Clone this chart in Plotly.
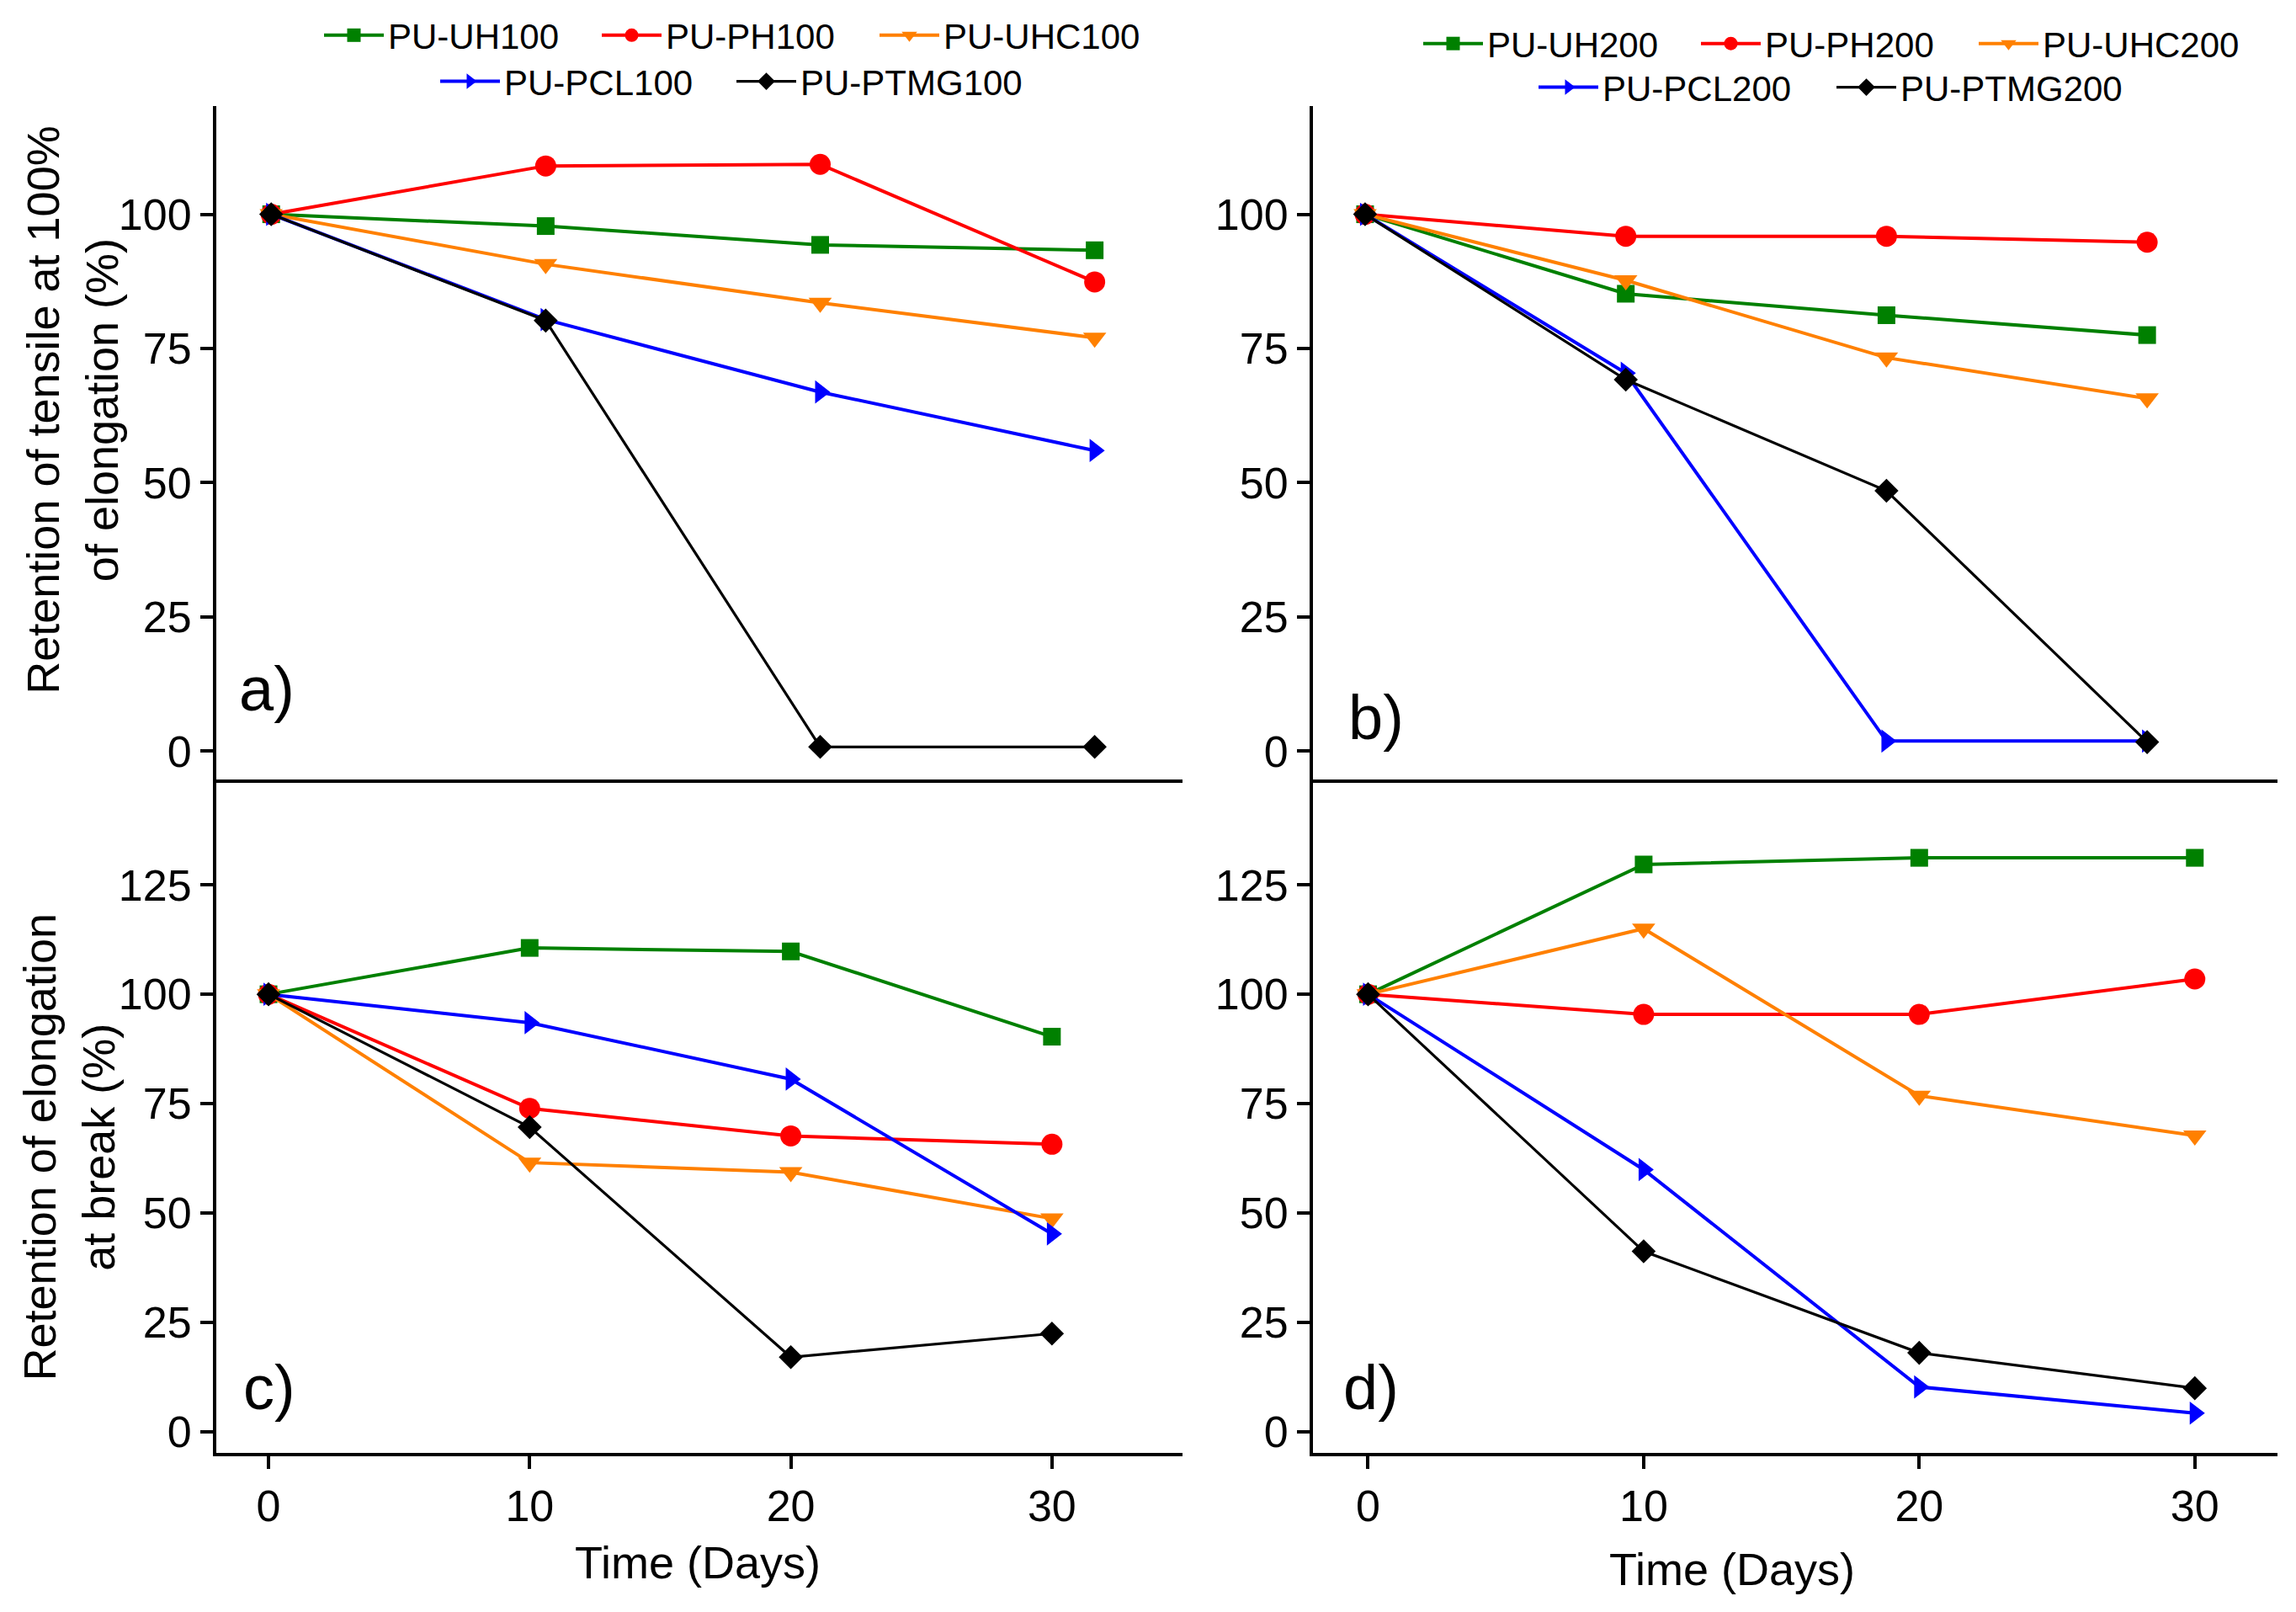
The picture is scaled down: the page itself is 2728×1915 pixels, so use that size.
import plotly.graph_objects as go

# ---------------- data ----------------
days = [0, 10, 20, 30]

# a) Retention of tensile at 100% of elongation, 100-series
a_UH100 = [100, 97.8, 94.3, 93.3]
a_PH100 = [100, 109.0, 109.3, 87.4]
a_UHC100 = [100, 90.7, 83.5, 77.0]
a_PCL100 = [100, 80.4, 66.9, 56.0]
a_PTMG100 = [100, 80.2, 0.8, 0.8]

# b) Retention of tensile at 100% of elongation, 200-series
b_UH200 = [100, 85.2, 81.2, 77.5]
b_PH200 = [100, 95.9, 95.9, 94.8]
b_UHC200 = [100, 87.7, 73.3, 65.7]
b_PCL200 = [100, 70.4, 1.9, 1.9]
b_PTMG200 = [100, 69.2, 48.5, 1.7]

# c) Retention of elongation at break, 100-series
c_UH100 = [100, 110.6, 109.8, 90.3]
c_PH100 = [100, 73.9, 67.6, 65.7]
c_UHC100 = [100, 61.5, 59.3, 48.7]
c_PCL100 = [100, 93.5, 80.6, 45.2]
c_PTMG100 = [100, 69.6, 17.0, 22.4]

# d) Retention of elongation at break, 200-series
d_UH200 = [100, 129.7, 131.2, 131.2]
d_PH200 = [100, 95.4, 95.4, 103.5]
d_UHC200 = [100, 115.0, 76.8, 67.7]
d_PCL200 = [100, 59.9, 10.2, 4.2]
d_PTMG200 = [100, 41.2, 18.0, 9.9]

names100 = ["PU-UH100", "PU-PH100", "PU-UHC100", "PU-PCL100", "PU-PTMG100"]
names200 = ["PU-UH200", "PU-PH200", "PU-UHC200", "PU-PCL200", "PU-PTMG200"]
x_ticks = [0, 10, 20, 30]
y_ticks_top = [0, 25, 50, 75, 100]
y_ticks_bot = [0, 25, 50, 75, 100, 125]

# ---------------- styling ----------------
W, H = 2728, 1915
FONT = "Liberation Sans, Arial, sans-serif"
colors = ["#008000", "#FF0000", "#FF8000", "#0000FF", "#000000"]
symbols = ["square", "circle", "triangle-down", "triangle-right", "diamond"]
msizes = [21, 25, 24, 24, 22]
lwidths = [4, 4, 4, 4, 3.2]

def px_x(p):
    return p / W

def px_y(p):
    return 1 - p / H

fig = go.Figure()

panels = [
    ("x", "y", [a_UH100, a_PH100, a_UHC100, a_PCL100, a_PTMG100], names100, True),
    ("x2", "y2", [b_UH200, b_PH200, b_UHC200, b_PCL200, b_PTMG200], names200, True),
    ("x3", "y3", [c_UH100, c_PH100, c_UHC100, c_PCL100, c_PTMG100], names100, False),
    ("x4", "y4", [d_UH200, d_PH200, d_UHC200, d_PCL200, d_PTMG200], names200, False),
]

legend_map = {
    ("x", 0): "legend", ("x", 1): "legend", ("x", 2): "legend",
    ("x", 3): "legend2", ("x", 4): "legend2",
    ("x2", 0): "legend3", ("x2", 1): "legend3", ("x2", 2): "legend3",
    ("x2", 3): "legend4", ("x2", 4): "legend4",
}

for xa, ya, series, names, show in panels:
    for i, vals in enumerate(series):
        fig.add_trace(go.Scatter(
            x=days, y=vals, xaxis=xa, yaxis=ya,
            mode="lines+markers", name=names[i],
            line=dict(color=colors[i], width=lwidths[i]),
            marker=dict(symbol=symbols[i], size=msizes[i], color=colors[i],
                        line=dict(width=0)),
            showlegend=show,
            legend=legend_map.get((xa, i), "legend"),
        ))

# domains (pixel-derived)
xl = [px_x(249), px_x(1397)]
xr = [px_x(1552), px_x(2698)]
yt = [px_y(919), px_y(117)]
yb = [px_y(1721), px_y(919)]

tickfont = dict(family=FONT, size=52, color="black")
common_line = dict(showline=True, linecolor="black", linewidth=4,
                   showgrid=False, zeroline=False, mirror=False)
tickstyle = dict(ticks="outside", ticklen=15, tickwidth=3.5, tickcolor="black",
                 tickfont=tickfont)

fig.update_layout(
    width=W, height=H,
    margin=dict(l=0, r=0, t=0, b=0),
    paper_bgcolor="white", plot_bgcolor="white",
    font=dict(family=FONT, color="black"),
    xaxis=dict(domain=xl, anchor="y", range=[-2, 33.2], showticklabels=False,
               ticks="", **common_line),
    yaxis=dict(domain=yt, anchor="x", range=[-5.2, 120.2], tickvals=y_ticks_top,
               **tickstyle, **common_line),
    xaxis2=dict(domain=xr, anchor="y2", range=[-2, 35], showticklabels=False,
                ticks="", **common_line),
    yaxis2=dict(domain=yt, anchor="x2", range=[-5.2, 120.2], tickvals=y_ticks_top,
                **tickstyle, **common_line),
    xaxis3=dict(domain=xl, anchor="y3", range=[-2, 35], tickvals=x_ticks,
                **tickstyle, **common_line),
    yaxis3=dict(domain=yb, anchor="x3", range=[-4.8, 149.2], tickvals=y_ticks_bot,
                **tickstyle, **common_line),
    xaxis4=dict(domain=xr, anchor="y4", range=[-2, 33], tickvals=x_ticks,
                **tickstyle, **common_line),
    yaxis4=dict(domain=yb, anchor="x4", range=[-4.8, 149.2], tickvals=y_ticks_bot,
                **tickstyle, **common_line),
)

legfont = dict(family=FONT, size=42, color="black")
def leg(xp, yp, ew):
    return dict(orientation="h", x=px_x(xp), y=px_y(yp), xanchor="left",
                yanchor="middle", font=legfont, bgcolor="rgba(0,0,0,0)",
                itemwidth=71, entrywidth=ew, entrywidthmode="pixels",
                tracegroupgap=0)

fig.update_layout(
    legend=leg(353 + 19, 42 - 9, 244),
    legend2=leg(491 + 19, 97 - 9, 266),
    legend3=leg(1659 + 19, 52 - 9, 244),
    legend4=leg(1796 + 19, 104 - 9, 268),
)

annos = [
    dict(text="Retention of tensile at 100%<br>of elongation (%)", x=px_x(78), y=px_y(480),
         textangle=-90, font=dict(family=FONT, size=54)),
    dict(text="Retention of elongation<br>at break (%)", x=px_x(74), y=px_y(1358),
         textangle=-90, font=dict(family=FONT, size=54)),
    dict(text="Time (Days)", x=px_x(821), y=px_y(1852), font=dict(family=FONT, size=54)),
    dict(text="Time (Days)", x=px_x(2050), y=px_y(1860), font=dict(family=FONT, size=54)),
    dict(text="a)", x=px_x(274), y=px_y(812), xanchor="left", font=dict(family=FONT, size=74)),
    dict(text="b)", x=px_x(1592), y=px_y(846), xanchor="left", font=dict(family=FONT, size=74)),
    dict(text="c)", x=px_x(279), y=px_y(1644), xanchor="left", font=dict(family=FONT, size=74)),
    dict(text="d)", x=px_x(1586), y=px_y(1644), xanchor="left", font=dict(family=FONT, size=74)),
]
for a in annos:
    a.setdefault("xanchor", "center")
    a.update(xref="paper", yref="paper", showarrow=False, yanchor="middle")
    a["font"]["color"] = "black"
    fig.add_annotation(**a)

fig.write_html("out.html")
